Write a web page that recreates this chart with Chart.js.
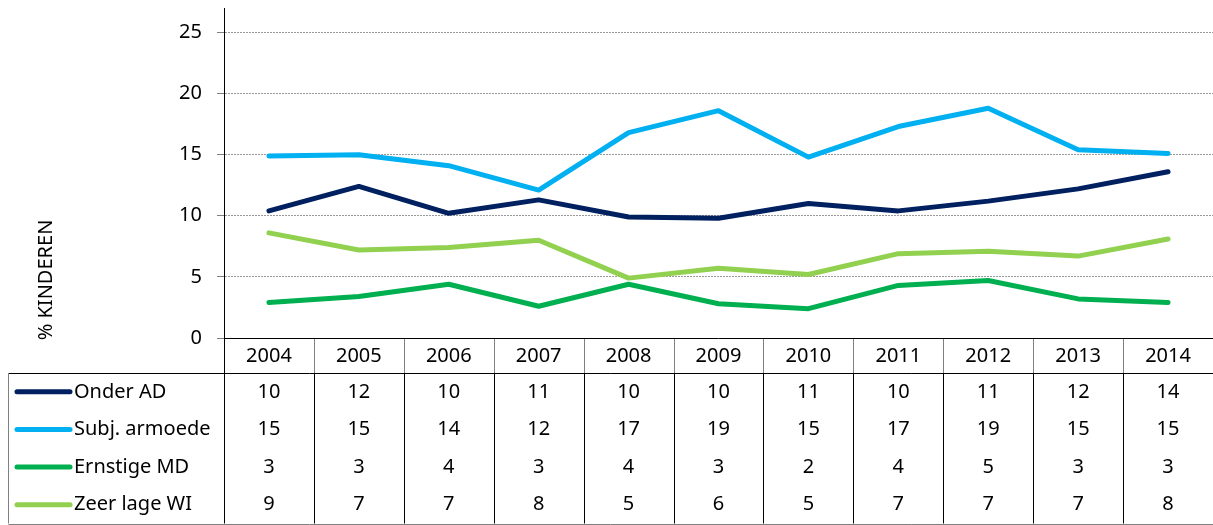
<!DOCTYPE html>
<html lang="nl">
<head>
<meta charset="utf-8">
<title>Kinderen in armoede 2004-2014</title>
<script src="https://cdn.jsdelivr.net/npm/chart.js@4/dist/chart.umd.min.js"></script>
<style>
  html, body { margin: 0; padding: 0; background: #fff; }
  #wrap { width: 1213px; height: 525px; }
</style>
</head>
<body>
<div id="wrap"><canvas id="c" width="1213" height="525"></canvas></div>
<script>
// Jaren (kolommen van de grafiek en de tabel)
const years = ['2004', '2005', '2006', '2007', '2008', '2009', '2010', '2011', '2012', '2013', '2014'];

// Reeksen (% kinderen)
const seriesNames = ['Onder AD', 'Subj. armoede', 'Ernstige MD', 'Zeer lage WI'];
const onderAD     = [10.4, 12.4, 10.2, 11.3, 9.9, 9.8, 11.0, 10.4, 11.2, 12.2, 13.6];
const subjArmoede = [14.9, 15.0, 14.1, 12.1, 16.8, 18.6, 14.8, 17.3, 18.8, 15.4, 15.1];
const ernstigeMD  = [2.9, 3.4, 4.4, 2.6, 4.4, 2.8, 2.4, 4.3, 4.7, 3.2, 2.9];
const zeerLageWI  = [8.6, 7.2, 7.4, 8.0, 4.9, 5.7, 5.2, 6.9, 7.1, 6.7, 8.1];

// Y-as
const yTicks = [0, 5, 10, 15, 20, 25];
const yMax = 27;
const yTitle = '% KINDEREN';

const colors = ['#002060', '#00b0f0', '#00b050', '#92d050'];
const seriesValues = [onderAD, subjArmoede, ernstigeMD, zeerLageWI];
const FONT = '"Noto Sans", "DejaVu Sans", sans-serif';

// Gegevenstabel onder de grafiek, uitgelijnd op de categorie-as
const dataTablePlugin = {
  id: 'dataTable',
  afterDraw(chart) {
    const ctx = chart.ctx;
    const x = chart.scales.x;
    const area = chart.chartArea;
    const n = years.length;
    const step = x.getPixelForValue(1) - x.getPixelForValue(0);
    const left = area.left;
    const right = area.right;
    const top = area.bottom;          // lijn onder de grafiek
    const headBottom = top + 35;      // onderkant jarenrij
    const bottom = 523.5;
    const tableLeft = 8.5;
    const rowH = (bottom - headBottom) / seriesNames.length;

    ctx.save();
    // verticale scheidingslijnen in de jarenrij
    ctx.lineWidth = 1;
    ctx.strokeStyle = '#808080';
    for (let i = 1; i < n; i++) {
      const bx = Math.round(x.getPixelForValue(i) - step / 2) + 0.5;
      ctx.beginPath(); ctx.moveTo(bx, top); ctx.lineTo(bx, headBottom); ctx.stroke();
    }
    // verticale lijnen in het gegevensdeel
    ctx.strokeStyle = '#000';
    for (let i = 1; i < n; i++) {
      const bx = Math.round(x.getPixelForValue(i) - step / 2) + 0.5;
      ctx.beginPath(); ctx.moveTo(bx, headBottom); ctx.lineTo(bx, bottom); ctx.stroke();
    }
    // as-lijn van de y-as doorgetrokken tot onderaan
    const ax = Math.round(left) + 0.5;
    ctx.beginPath(); ctx.moveTo(ax, top); ctx.lineTo(ax, bottom); ctx.stroke();
    // horizontale lijnen
    ctx.beginPath(); ctx.moveTo(left, Math.round(top) + 0.5); ctx.lineTo(right, Math.round(top) + 0.5); ctx.stroke();
    ctx.beginPath(); ctx.moveTo(tableLeft, Math.round(headBottom) + 0.5); ctx.lineTo(right, Math.round(headBottom) + 0.5); ctx.stroke();
    ctx.strokeStyle = '#808080';
    ctx.beginPath(); ctx.moveTo(tableLeft, Math.round(bottom) + 0.5); ctx.lineTo(right, Math.round(bottom) + 0.5); ctx.stroke();
    ctx.beginPath(); ctx.moveTo(tableLeft, headBottom); ctx.lineTo(tableLeft, bottom); ctx.stroke();

    // jaartallen
    ctx.fillStyle = '#000';
    ctx.font = '20px ' + FONT;
    ctx.textAlign = 'center';
    ctx.textBaseline = 'middle';
    years.forEach((y, i) => {
      ctx.fillText(y, x.getPixelForValue(i), (top + headBottom) / 2 + 1);
    });

    // rijen: legende + afgeronde waarden
    seriesNames.forEach((name, r) => {
      const cy = headBottom + rowH * (r + 0.5);
      ctx.strokeStyle = colors[r];
      ctx.lineWidth = 5;
      ctx.lineCap = 'round';
      ctx.beginPath(); ctx.moveTo(17, cy); ctx.lineTo(70, cy); ctx.stroke();
      ctx.textAlign = 'left';
      ctx.fillStyle = '#000';
      ctx.fillText(name, 74, cy);
      ctx.textAlign = 'center';
      seriesValues[r].forEach((v, i) => {
        ctx.fillText(String(Math.round(v)), x.getPixelForValue(i), cy);
      });
    });

    // titel van de y-as
    ctx.save();
    ctx.translate(46, 280);
    ctx.rotate(-Math.PI / 2);
    ctx.textAlign = 'center';
    ctx.textBaseline = 'middle';
    ctx.fillText(yTitle, 0, 0);
    ctx.restore();

    ctx.restore();
  }
};

new Chart(document.getElementById('c'), {
  type: 'line',
  data: {
    labels: years,
    datasets: seriesNames.map((name, i) => ({
      label: name,
      data: seriesValues[i],
      borderColor: colors[i],
      backgroundColor: colors[i],
      borderWidth: 5,
      borderCapStyle: 'round',
      borderJoinStyle: 'round',
      pointRadius: 0,
      pointHoverRadius: 0,
      tension: 0,
      order: seriesNames.length - i
    }))
  },
  options: {
    responsive: false,
    animation: false,
    events: [],
    layout: { padding: { left: 0, top: 8, right: 0, bottom: 187 } },
    plugins: {
      legend: { display: false },
      tooltip: { enabled: false },
      title: { display: false }
    },
    scales: {
      x: {
        display: false,
        offset: true,
        grid: { offset: true }
      },
      y: {
        min: 0,
        max: yMax,
        afterFit(scale) {
          scale.width = 224;
          scale.paddingTop = 0;
          scale.paddingBottom = 0;
        },
        afterBuildTicks(scale) {
          scale.ticks = yTicks.map(v => ({ value: v }));
        },
        border: { display: true, color: '#000', width: 1, dash: [2, 1] },
        grid: {
          color: ctx => (ctx.tick && ctx.tick.value === 0) ? 'rgba(0,0,0,0)' : '#9a9a9a',
          lineWidth: 1,
          drawTicks: true,
          tickLength: 7,
          tickColor: '#808080',
          tickBorderDash: []
        },
        ticks: {
          padding: 15,
          color: '#000',
          font: { family: FONT, size: 20 }
        }
      }
    }
  },
  plugins: [dataTablePlugin]
});
</script>
</body>
</html>
